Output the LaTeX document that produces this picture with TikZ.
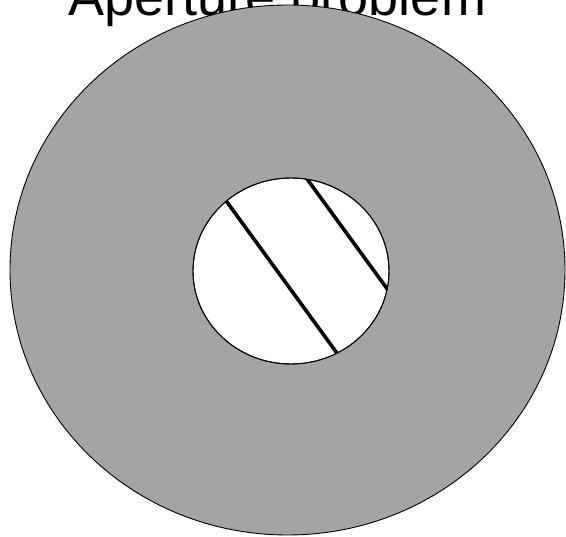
\documentclass[tikz,border=0pt]{standalone}
\usepackage{fontspec}
\setmainfont{Liberation Sans}
\usetikzlibrary{positioning}

\definecolor{discgray}{RGB}{164,164,164}

\begin{document}
\begin{tikzpicture}[
    x=1pt, y=-1pt,
    outline/.style={draw=black, line width=0.9pt},
    stripe/.style={line width=3.6pt},
]
    \useasboundingbox (0,0) rectangle (566,537);

    % title, partly hidden by the disc
    \node[anchor=base, inner sep=0pt, font=\fontsize{54}{60}\selectfont] (title) at (277.5,16) {Aperture problem};

    % grey disc
    \draw[outline, fill=discgray] (287.5,270) ellipse [x radius=277.5, y radius=265];

    % aperture
    \draw[outline, fill=white] (291,271) ellipse [x radius=98, y radius=93];

    % moving edges seen through the aperture
    \begin{scope}
        \clip (291,271) ellipse [x radius=98, y radius=93];
        \draw[stripe] (211.7,181.0) -- (351.7,373.4);
        \draw[stripe] (293.3,160.1) -- (401.7,308.8);
    \end{scope}
    \draw[outline] (291,271) ellipse [x radius=98, y radius=93];
\end{tikzpicture}
\end{document}
